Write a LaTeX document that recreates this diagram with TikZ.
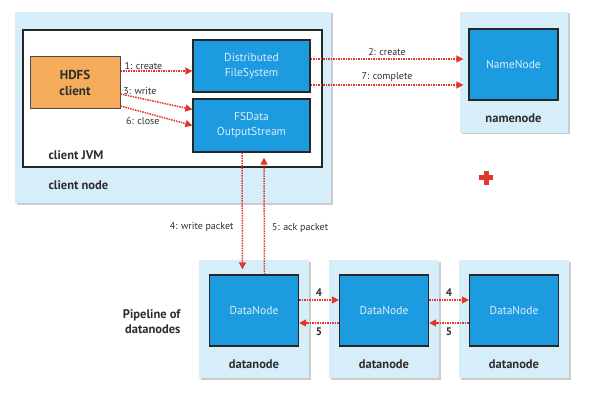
\documentclass[tikz,border=0pt]{standalone}
\usepackage{fontspec}
\setmainfont{PT Sans}
\usetikzlibrary{arrows.meta,shadows}

\definecolor{paleblue}{HTML}{D6EEF9}
\definecolor{boxblue}{HTML}{1C9BE0}
\definecolor{clientorange}{HTML}{F5AD5C}
\definecolor{arrowred}{HTML}{E2352C}
\definecolor{inktext}{HTML}{2E2E2E}
\definecolor{boxtext}{HTML}{DCEFFA}

\begin{document}
\begin{tikzpicture}[x=1pt,y=-1pt,
    hostbox/.style={fill=paleblue,inner sep=0pt,
        drop shadow={shadow xshift=1.5pt,shadow yshift=-1.5pt,fill=black!40,opacity=.5}},
    procbox/.style={draw=black!85,line width=1.3pt,fill=boxblue,text=boxtext,inner sep=0pt,
        align=center,minimum width=89pt,minimum height=71pt,font=\fontsize{11.5}{15}\selectfont},
    hostname/.style={text=inktext,font=\bfseries\fontsize{12.5}{15}\selectfont},
    msg/.style={text=inktext,font=\fontsize{10}{12}\selectfont,inner sep=1pt},
    hop/.style={text=inktext,font=\bfseries\fontsize{11}{12}\selectfont,inner sep=1pt},
    flow/.style={draw=arrowred,line width=1.5pt,densely dotted,-{Triangle[length=7pt,width=7pt]}}]
    \useasboundingbox (0,0) rectangle (594,401);

    % client node
    \node[hostbox,minimum width=316pt,minimum height=191pt] (clientnode) at (173,107.5) {};
    \node[draw=black!85,line width=1.3pt,fill=white,inner sep=0pt,minimum width=299pt,minimum height=137pt] (jvm) at (172.5,98.5) {};
    \node[draw=black!70,line width=1pt,fill=clientorange,inner sep=0pt,minimum width=90pt,minimum height=52pt,
        align=center,hostname,font=\bfseries\fontsize{13}{16}\selectfont] (hdfs) at (75,83) {HDFS\\client};
    \node[procbox,minimum width=117pt,minimum height=52pt] (dfs) at (251.5,66) {Distributed\\FileSystem};
    \node[procbox,minimum width=117pt,minimum height=53pt] (fsdata) at (251.5,125.5) {FSData\\OutputStream};
    \node[hostname,anchor=west] (jvmlabel) at (45,155) {client JVM};
    \node[hostname,anchor=west] (clientlabel) at (45,185) {client node};

    % namenode
    \node[hostbox,minimum width=108pt,minimum height=121pt] (nnhost) at (514,72.5) {};
    \node[procbox] (namenode) at (513.5,64.5) {NameNode};
    \node[hostname] (nnlabel) at (513.5,118) {namenode};

    % datanodes
    \foreach \i/\x in {1/254,2/384,3/514}{
        \node[hostbox,minimum width=110pt,minimum height=118pt] (dnhost\i) at (\x,319) {};
        \node[procbox] (dn\i) at (\x,310.5) {DataNode};
        \node[hostname] (dnlabel\i) at (\x,364) {datanode};
    }
    \node[hostname,align=right,anchor=east] (pipeline) at (184,322) {Pipeline of\\datanodes};

    \fill[arrowred] (479,175) rectangle (493,180);
    \fill[arrowred] (483.5,170.5) rectangle (488.5,184.5);

    \draw[flow] ([yshift=12pt]hdfs.east) -- node[msg,above,pos=.32] {1: create} ([yshift=-5pt]dfs.west);
    \draw[flow] ([yshift=-11pt]hdfs.east) -- node[msg,above=2pt,pos=.27] {3: write} ([yshift=16pt]fsdata.west);
    \draw[flow] ([yshift=-23pt]hdfs.east) -- node[msg,below=4pt,pos=.31] {6: close} (fsdata.west);
    \draw[flow] ([yshift=7pt]dfs.east) -- node[msg,above=2pt] {2: create} ([xshift=-5pt,yshift=5.5pt]namenode.west);
    \draw[flow] ([yshift=-19pt]dfs.east) -- node[msg,above=2pt] {7: complete} ([xshift=-5pt,yshift=-20.5pt]namenode.west);
    \draw[flow] ([xshift=-9.5pt]fsdata.south) -- node[msg,left=7pt,pos=.64] {4: write packet} ([xshift=-11.5pt,yshift=5pt]dn1.north);
    \draw[flow] ([xshift=10.5pt]dn1.north) -- node[msg,right=6pt,pos=.4] {5: ack packet} ([xshift=12.5pt,yshift=-5pt]fsdata.south);

    \foreach \a/\b in {1/2,2/3}{
        \draw[flow] ([yshift=10.5pt]dn\a.east) -- node[hop,above=2pt] {4} ([yshift=10.5pt]dn\b.west);
        \draw[flow] ([yshift=-12.5pt]dn\b.west) -- node[hop,below=3pt] {5} ([yshift=-12.5pt]dn\a.east);
    }
\end{tikzpicture}
\end{document}
